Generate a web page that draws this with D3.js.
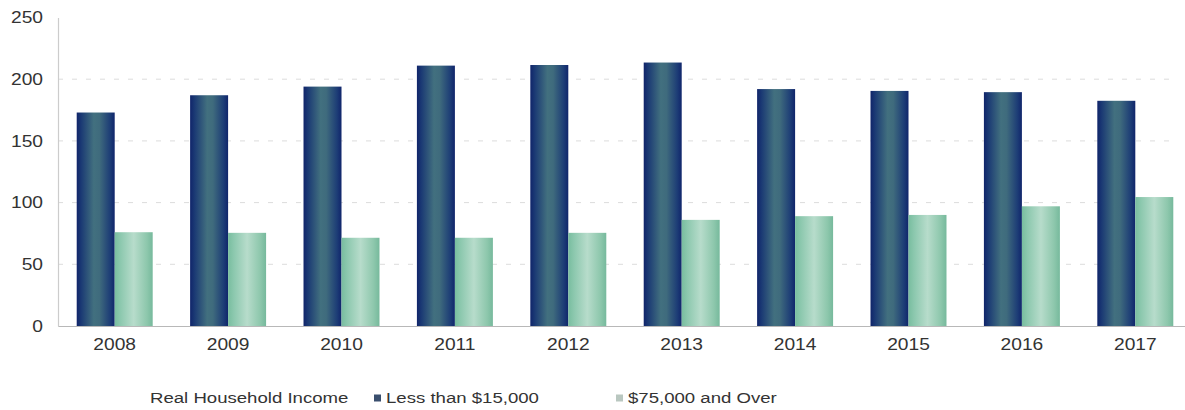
<!DOCTYPE html>
<html>
<head>
<meta charset="utf-8">
<script src="https://cdn.jsdelivr.net/npm/d3@7"></script>
<style>
  html, body { margin: 0; padding: 0; background: #ffffff; }
  svg { display: block; }
  text { font-family: "Liberation Sans", Arial, sans-serif; fill: #333333; }
</style>
</head>
<body>
<svg id="chart" width="1185" height="410"></svg>
<script>
// Household counts by income bracket, 2008–2017
const years = ["2008", "2009", "2010", "2011", "2012", "2013", "2014", "2015", "2016", "2017"];
const lessThan15k = [173, 187, 194, 211, 211.5, 213.5, 192, 190.5, 189.5, 182.5];
const over75k = [76, 75.5, 71.5, 71.5, 75.5, 86, 89, 90, 97, 104.5];
const seriesNames = ["Less than $15,000", "$75,000 and Over"];
const yTicks = [0, 50, 100, 150, 200, 250];
const legendTitle = "Real Household Income";

const svg = d3.select("#chart");
const margin = { left: 58, right: -7, top: 17.5, bottom: 84 };
const width = 1185, height = 410;
const stretch = 1.2; // labels are set in a slightly widened face

const x = d3.scaleBand()
  .domain(years)
  .range([margin.left, width - margin.right])
  .paddingInner(0.33)
  .paddingOuter(0.165);

const x1 = d3.scaleBand()
  .domain(seriesNames)
  .range([0, x.bandwidth()]);

const y = d3.scaleLinear()
  .domain([0, 250])
  .range([height - margin.bottom, margin.top]);

// Horizontal shading for the bars
const defs = svg.append("defs");
function hGradient(id, stops) {
  const g = defs.append("linearGradient").attr("id", id)
    .attr("x1", "0%").attr("x2", "100%").attr("y1", "0%").attr("y2", "0%");
  stops.forEach(([o, c]) => g.append("stop").attr("offset", o).attr("stop-color", c));
}
hGradient("gDark", [["0%", "#10246a"], ["12%", "#1b3a74"], ["45%", "#42707f"], ["60%", "#3f6b7d"], ["88%", "#1d3d76"], ["100%", "#10256b"]]);
hGradient("gLight", [["0%", "#78bd9f"], ["15%", "#8cc8ae"], ["50%", "#b7dccb"], ["85%", "#8dc7ac"], ["100%", "#76b99c"]]);
const fills = { [seriesNames[0]]: "url(#gDark)", [seriesNames[1]]: "url(#gLight)" };
const legendColors = { [seriesNames[0]]: "#3a4f6e", [seriesNames[1]]: "#b9c7c0" };

// Dashed gridlines
svg.append("g")
  .selectAll("line")
  .data(yTicks.filter(d => d > 0 && d < 250))
  .join("line")
  .attr("x1", margin.left).attr("x2", width - 10)
  .attr("y1", d => y(d)).attr("y2", d => y(d))
  .attr("stroke", "#dcdcdc")
  .attr("stroke-width", 1)
  .attr("stroke-dasharray", "5,9");

// Y axis
const yAxis = svg.append("g")
  .attr("transform", `translate(${margin.left},0)`)
  .call(d3.axisLeft(y).tickValues(yTicks).tickSize(0).tickPadding(12.5));
yAxis.select(".domain").attr("stroke", "#cccccc").attr("stroke-width", 1.2);
yAxis.selectAll("text").attr("font-size", 16).attr("fill", "#333")
  .attr("transform", `scale(${stretch},1)`);

// X axis
const xAxis = svg.append("g")
  .attr("transform", `translate(0,${y(0)})`)
  .call(d3.axisBottom(x).tickSize(0).tickPadding(13));
xAxis.select(".domain").attr("stroke", "#b8b8b8").attr("stroke-width", 1.2);
xAxis.selectAll("text").attr("font-size", 16).attr("fill", "#333")
  .attr("transform", `scale(${stretch},1)`);

// Bars
const rows = years.map((yr, i) => ({ year: yr, values: [
  { key: seriesNames[0], value: lessThan15k[i] },
  { key: seriesNames[1], value: over75k[i] }
]}));

svg.append("g")
  .selectAll("g")
  .data(rows)
  .join("g")
  .attr("transform", d => `translate(${x(d.year)},0)`)
  .selectAll("rect")
  .data(d => d.values)
  .join("rect")
  .attr("x", d => x1(d.key))
  .attr("width", x1.bandwidth())
  .attr("y", d => y(d.value))
  .attr("height", d => y(0) - y(d.value))
  .attr("fill", d => fills[d.key]);

// Legend
const legend = svg.append("g").attr("transform", "translate(0,398)");
legend.append("text")
  .attr("transform", `translate(150,0) scale(${stretch},1)`)
  .attr("dy", "0.35em")
  .attr("font-size", 15.5)
  .text(legendTitle);
const legendX = [374, 616];
seriesNames.forEach((name, i) => {
  legend.append("rect")
    .attr("x", legendX[i]).attr("y", -3.5)
    .attr("width", 7).attr("height", 7)
    .attr("fill", legendColors[name]);
  legend.append("text")
    .attr("transform", `translate(${legendX[i] + 12},0) scale(${stretch},1)`)
    .attr("dy", "0.35em")
    .attr("font-size", 15.5)
    .text(name);
});
</script>
</body>
</html>
